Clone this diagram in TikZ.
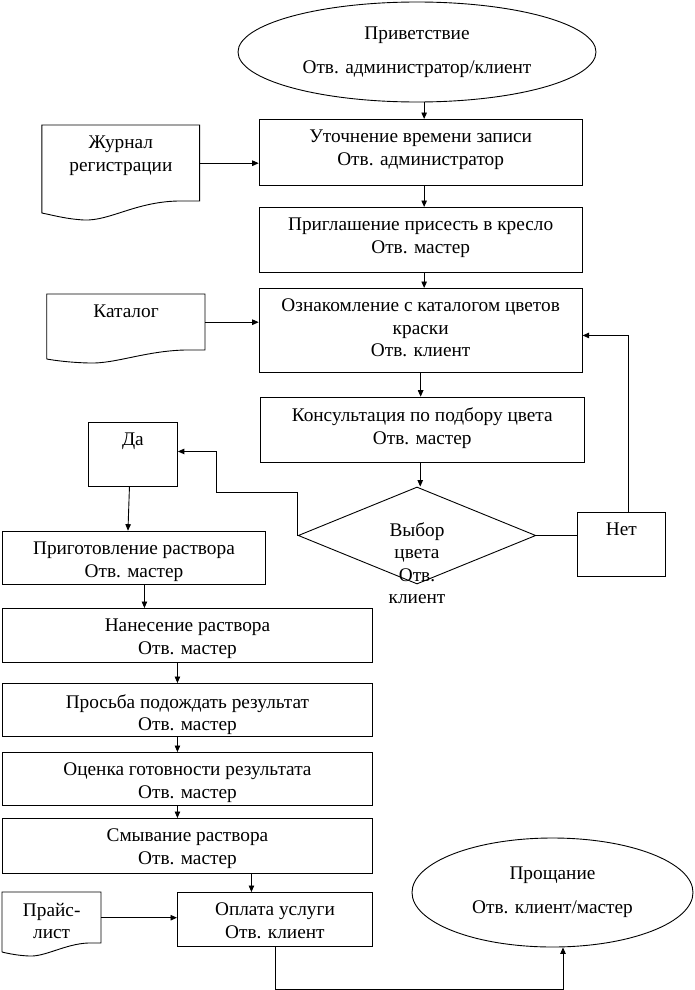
\documentclass[tikz,border=0pt]{standalone}
\usepackage{fontspec}
\setmainfont{Liberation Serif}
\usetikzlibrary{shapes.geometric,arrows.meta}
\begin{document}
\begin{tikzpicture}[x=1pt,y=-1pt,
  every node/.style={font=\fontsize{19.3}{22.5}\selectfont},
  lw/.style={line width=0.9pt},
  box/.style={draw, lw, rectangle, inner sep=0pt, anchor=north west},
  docbody/.style={rectangle, inner sep=0pt, anchor=north west},
  lbl/.style={anchor=north, align=center, inner sep=0pt, yshift=-11pt},
  arr/.style={lw, -{Triangle[length=6.5pt,width=5.5pt]}},
  oval/.style={draw, lw, ellipse, inner sep=0pt, align=center},
  decision/.style={draw, lw, diamond, inner sep=0pt}
]
\useasboundingbox (0,0) rectangle (694,990);

% terminators
\node[oval, minimum width=358pt, minimum height=100pt] (e1) at (417,52) {Приветствие\\[11.5pt]Отв. администратор/клиент};
\node[oval, minimum width=281pt, minimum height=109pt] (e2) at (552.5,892.5) {Прощание\\[11.5pt]Отв. клиент/мастер};

% process boxes
\node[box, minimum width=323pt, minimum height=66pt, label={[lbl]north:{Уточнение времени записи\\Отв. администратор}}] (b1) at (258.7,119) {};
\node[box, minimum width=323pt, minimum height=65pt, label={[lbl]north:{Приглашение присесть в кресло\\Отв. мастер}}] (b2) at (258.7,207) {};
\node[box, minimum width=323pt, minimum height=84pt, label={[lbl]north:{Ознакомление с каталогом цветов\\краски\\Отв. клиент}}] (b3) at (258.7,288) {};
\node[box, minimum width=323.6pt, minimum height=65.3pt, label={[lbl]north:{Консультация по подбору цвета\\Отв. мастер}}] (b4) at (260,396.7) {};
\node[box, minimum width=89pt, minimum height=64pt, label={[lbl]north:{Да}}] (da) at (88,422) {};
\node[box, minimum width=88pt, minimum height=64pt, label={[lbl]north:{Нет}}] (net) at (577,512) {};
\node[box, minimum width=263pt, minimum height=53.3pt, label={[lbl]north:{Приготовление раствора\\Отв. мастер}}] (b5) at (2,530.7) {};
\node[box, minimum width=370pt, minimum height=54pt, label={[lbl]north:{Нанесение раствора\\Отв. мастер}}] (b6) at (2,608) {};
\node[box, minimum width=370pt, minimum height=53pt, label={[lbl]north:{Просьба подождать результат\\Отв. мастер}}] (b7) at (2,683) {};
\node[box, minimum width=370pt, minimum height=53pt, label={[lbl]north:{Оценка готовности результата\\Отв. мастер}}] (b8) at (2,752) {};
\node[box, minimum width=370pt, minimum height=55pt, label={[lbl]north:{Смывание раствора\\Отв. мастер}}] (b9) at (2,818) {};
\node[box, minimum width=195pt, minimum height=54pt, label={[lbl]north:{Оплата услуги\\Отв. клиент}}] (b10) at (177,892) {};

% decision
\node[decision, minimum width=237.6pt, minimum height=97pt] (dia) at (417,535.5) {};
\node[anchor=north, align=center, inner sep=0pt] (diatxt) at (417,522) {Выбор\\цвета\\Отв.\\клиент};

% documents
\node[docbody, minimum width=157.8pt, minimum height=76pt, label={[lbl]north:{Журнал\\регистрации}}] (jr) at (41.8,125) {};
\draw[lw] (41.8,213) -- (41.8,125) -- (199.6,125) -- (199.6,201) -- (178,201)
  .. controls (135,202) and (110,221) .. (84,220)
  .. controls (66,219) and (52,215) .. (41.8,213);
\node[docbody, minimum width=158.3pt, minimum height=56pt, label={[lbl]north:{Каталог}}] (kt) at (46.7,294) {};
\draw[lw] (46.7,359) -- (46.7,294) -- (205,294) -- (205,350) -- (185,350)
  .. controls (145,351) and (115,364) .. (89,363)
  .. controls (70,362.5) and (55,360.5) .. (46.7,359);
\node[docbody, minimum width=99pt, minimum height=51pt, label={[lbl]north:{Прайс-\\лист}}] (pr) at (2,892) {};
\draw[lw] (2,952) -- (2,892) -- (101,892) -- (101,943) -- (88,943)
  .. controls (65,944) and (45,957) .. (29,956)
  .. controls (18,955.5) and (8,953.5) .. (2,952);

% connectors
\draw[arr] ([xshift=3.5pt]b1.north |- e1.south) -- ([xshift=3.5pt]b1.north);
\draw[arr] ([xshift=3.5pt]b1.south) -- ([xshift=3.5pt]b2.north);
\draw[arr] ([xshift=3.5pt]b2.south) -- ([xshift=3.5pt]b3.north);
\draw[arr] (b3.south) -- (b3.south |- b4.north);
\draw[arr] ([xshift=-2pt]b4.south) -- ([xshift=-2pt]b4.south |- dia.north);
\draw[arr] (jr.east) -- (jr.east -| b1.west);
\draw[arr] (kt.east) -- (kt.east -| b3.west);
\draw[arr] (dia.west) -- ++(0,-43) -- ++(-81.4,0) |- ([yshift=3pt]da.east);
\draw[lw] (dia.east) -- (dia.east -| net.west);
\draw[arr] ([xshift=7pt]net.north) |- ([yshift=-5pt]b3.east);
\draw[arr] ([xshift=-3.5pt]da.south) -- ([xshift=-6pt]b5.north);
\draw[arr] ([xshift=10.5pt]b5.south) -- ([xshift=10.5pt]b5.south |- b6.north);
\draw[arr] ([xshift=-10pt]b6.south) -- ([xshift=-10pt]b7.north);
\draw[arr] ([xshift=-10pt]b7.south) -- ([xshift=-10pt]b8.north);
\draw[arr] ([xshift=-10pt]b8.south) -- ([xshift=-10pt]b9.north);
\draw[arr] ([xshift=-23.5pt]b10.north |- b9.south) -- ([xshift=-23.5pt]b10.north);
\draw[arr] (pr.east) -- (pr.east -| b10.west);
\draw[arr] (b10.south) -- ++(0,43) -| ([xshift=10.5pt]e2.south);
\end{tikzpicture}
\end{document}
